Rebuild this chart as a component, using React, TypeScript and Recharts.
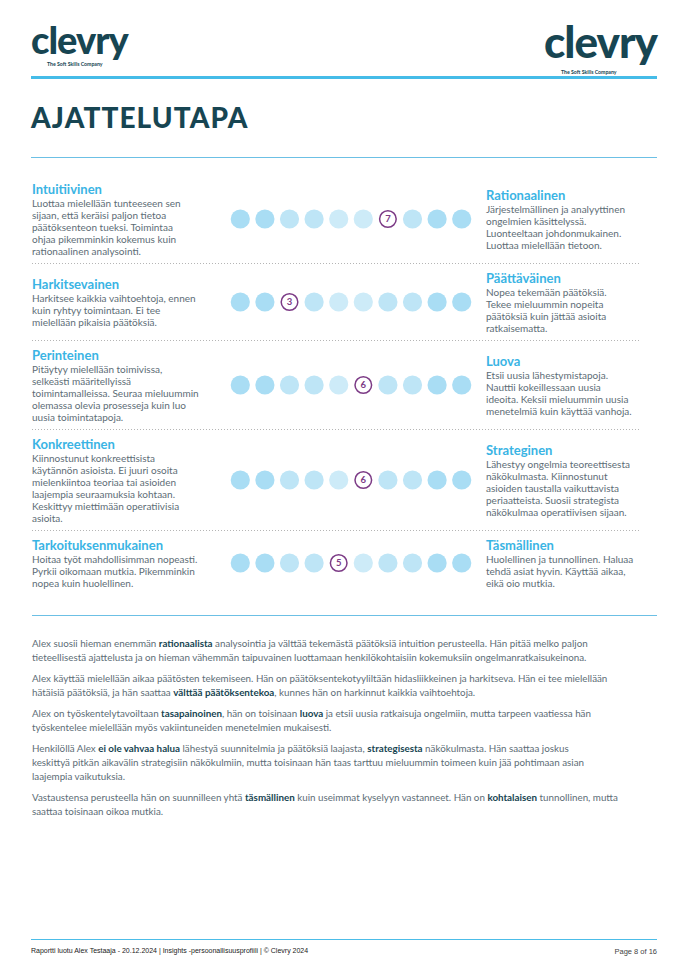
import React from "react";
import { ScatterChart, Scatter, XAxis, YAxis } from "recharts";

const positions = [1, 2, 3, 4, 5, 6, 7, 8, 9, 10];
const scores = [7, 3, 6, 6, 5];
const leftTitles = ["Intuitiivinen", "Harkitsevainen", "Perinteinen", "Konkreettinen", "Tarkoituksenmukainen"];
const rightTitles = ["Rationaalinen", "Päättäväinen", "Luova", "Strateginen", "Täsmällinen"];
const leftTexts = [
  ["Luottaa mielellään tunteeseen sen", "sijaan, että keräisi paljon tietoa", "päätöksenteon tueksi. Toimintaa", "ohjaa pikemminkin kokemus kuin", "rationaalinen analysointi."],
  ["Harkitsee kaikkia vaihtoehtoja, ennen", "kuin ryhtyy toimintaan. Ei tee", "mielellään pikaisia päätöksiä."],
  ["Pitäytyy mielellään toimivissa,", "selkeästi määritellyissä", "toimintamalleissa. Seuraa mieluummin", "olemassa olevia prosesseja kuin luo", "uusia toimintatapoja."],
  ["Kiinnostunut konkreettisista", "käytännön asioista. Ei juuri osoita", "mielenkiintoa teoriaa tai asioiden", "laajempia seuraamuksia kohtaan.", "Keskittyy miettimään operatiivisia", "asioita."],
  ["Hoitaa työt mahdollisimman nopeasti.", "Pyrkii oikomaan mutkia. Pikemminkin", "nopea kuin huolellinen."],
];
const rightTexts = [
  ["Järjestelmällinen ja analyyttinen", "ongelmien käsittelyssä.", "Luonteeltaan johdonmukainen.", "Luottaa mielellään tietoon."],
  ["Nopea tekemään päätöksiä.", "Tekee mieluummin nopeita", "päätöksiä kuin jättää asioita", "ratkaisematta."],
  ["Etsii uusia lähestymistapoja.", "Nauttii kokeillessaan uusia", "ideoita. Keksii mieluummin uusia", "menetelmiä kuin käyttää vanhoja."],
  ["Lähestyy ongelmia teoreettisesta", "näkökulmasta. Kiinnostunut", "asioiden taustalla vaikuttavista", "periaatteista. Suosii strategista", "näkökulmaa operatiivisen sijaan."],
  ["Huolellinen ja tunnollinen. Haluaa", "tehdä asiat hyvin. Käyttää aikaa,", "eikä oio mutkia."],
];
// paragraphs: each line is a list of [text, bold]
const paragraphs: [string, boolean][][][] = [
  [
    [["Alex suosii hieman enemmän ", false], ["rationaalista", true], [" analysointia ja välttää tekemästä päätöksiä intuition perusteella. Hän pitää melko paljon", false]],
    [["tieteellisestä ajattelusta ja on hieman vähemmän taipuvainen luottamaan henkilökohtaisiin kokemuksiin ongelmanratkaisukeinona.", false]],
  ],
  [
    [["Alex käyttää mielellään aikaa päätösten tekemiseen. Hän on päätöksentekotyyliltään hidasliikkeinen ja harkitseva. Hän ei tee mielellään", false]],
    [["hätäisiä päätöksiä, ja hän saattaa ", false], ["välttää päätöksentekoa", true], [", kunnes hän on harkinnut kaikkia vaihtoehtoja.", false]],
  ],
  [
    [["Alex on työskentelytavoiltaan ", false], ["tasapainoinen", true], [", hän on toisinaan ", false], ["luova", true], [" ja etsii uusia ratkaisuja ongelmiin, mutta tarpeen vaatiessa hän", false]],
    [["työskentelee mielellään myös vakiintuneiden menetelmien mukaisesti.", false]],
  ],
  [
    [["Henkilöllä Alex ", false], ["ei ole vahvaa halua", true], [" lähestyä suunnitelmia ja päätöksiä laajasta, ", false], ["strategisesta", true], [" näkökulmasta. Hän saattaa joskus", false]],
    [["keskittyä pitkän aikavälin strategisiin näkökulmiin, mutta toisinaan hän taas tarttuu mieluummin toimeen kuin jää pohtimaan asian", false]],
    [["laajempia vaikutuksia.", false]],
  ],
  [
    [["Vastaustensa perusteella hän on suunnilleen yhtä ", false], ["täsmällinen", true], [" kuin useimmat kyselyyn vastanneet. Hän on ", false], ["kohtalaisen", true], [" tunnollinen, mutta", false]],
    [["saattaa toisinaan oikoa mutkia.", false]],
  ],
];

const DARK = "#174552";
const BLUE = "#3ab4e4";
const TEXT = "#5d6d76";
const PURPLE = "#7c3b86";
const shadeFor = (p: number) => {
  const d = Math.min(p, 11 - p);
  return d <= 2 ? "#a9ddf4" : d <= 4 ? "#bee5f6" : "#cdebf8";
};
const FONT = "Lato, 'Open Sans', sans-serif";

function DotShape(props: any) {
  const { cx, cy, payload } = props;
  if (payload.isScore) {
    return (
      <g>
        <circle cx={cx} cy={cy} r={8.3} fill="#fff" stroke={PURPLE} strokeWidth={1.5} />
        <text x={cx} y={cy + 3.4} textAnchor="middle" fontSize={9.5} fontWeight={700} fill={PURPLE} fontFamily={FONT}>
          {payload.pos}
        </text>
      </g>
    );
  }
  return <circle cx={cx} cy={cy} r={9.6} fill={shadeFor(payload.pos)} />;
}

function DotScale({ score }: { score: number }) {
  const data = positions.map((p) => ({ pos: p, y: 0.5, isScore: p === score }));
  return (
    <ScatterChart width={246} height={26} margin={{ top: 0, right: 0, bottom: 0, left: 0 }}>
      <XAxis type="number" dataKey="pos" domain={[0.5, 10.5]} hide />
      <YAxis type="number" dataKey="y" domain={[0, 1]} hide width={0} />
      <Scatter data={data} isAnimationActive={false} shape={<DotShape />} />
    </ScatterChart>
  );
}

function TextBlock({ title, lines }: { title: string; lines: string[] }) {
  return (
    <div>
      <div style={{ color: BLUE, fontWeight: 700, fontSize: 13, lineHeight: "16px" }}>{title}</div>
      {lines.map((l, i) => (
        <div key={i} style={{ color: TEXT, fontSize: 10, lineHeight: "12px", whiteSpace: "nowrap" }}>
          {l}
        </div>
      ))}
    </div>
  );
}

function Logo({ size, pad, top }: { size: number; pad: number; top: number }) {
  return (
    <div style={{ position: "relative", color: DARK }}>
      <div style={{ fontSize: size, fontWeight: 900, lineHeight: `${Math.round(size * 0.8)}px`, letterSpacing: -1 }}>clevry</div>
      <div style={{ position: "absolute", left: pad, top, fontSize: 5.2, fontWeight: 700, whiteSpace: "nowrap" }}>
        The Soft Skills Company
      </div>
    </div>
  );
}

export default function App() {
  return (
    <div style={{ position: "relative", width: 688, height: 976, background: "#fff", fontFamily: FONT, overflow: "hidden" }}>
      <style>{`body{margin:0}`}</style>
      <div style={{ position: "absolute", left: 31, top: 24 }}>
        <Logo size={38} pad={16} top={37} />
      </div>
      <div style={{ position: "absolute", left: 544, top: 24 }}>
        <Logo size={44} pad={17} top={45} />
      </div>
      <div style={{ position: "absolute", left: 31, top: 76, width: 626, height: 3, background: "#45bce8" }} />
      <div style={{ position: "absolute", left: 31, top: 100, fontSize: 28, fontWeight: 900, color: DARK, letterSpacing: 1.1 }}>
        AJATTELUTAPA
      </div>
      <div style={{ position: "absolute", left: 31, top: 157, width: 626, height: 1, background: "#6cc0e5" }} />

      <div style={{ position: "absolute", left: 32, top: 175, width: 608 }}>
        {scores.map((s, i) => (
          <div
            key={i}
            style={{
              display: "flex",
              alignItems: "center",
              padding: "6px 0",
              borderBottom: i < scores.length - 1 ? "1px solid transparent" : "none",
              backgroundImage: i < scores.length - 1 ? "linear-gradient(to right, #b5b5b5 1px, transparent 1px)" : "none",
              backgroundSize: "3px 1px",
              backgroundRepeat: "repeat-x",
              backgroundPosition: "left bottom",
              backgroundOrigin: "border-box",
            }}
          >
            <div style={{ width: 196 }}>
              <TextBlock title={leftTitles[i]} lines={leftTexts[i]} />
            </div>
            <div style={{ width: 258 }}>
              <DotScale score={s} />
            </div>
            <div style={{ width: 154 }}>
              <TextBlock title={rightTitles[i]} lines={rightTexts[i]} />
            </div>
          </div>
        ))}
      </div>

      <div style={{ position: "absolute", left: 32, top: 615, width: 625, height: 1, background: "#6cc0e5" }} />

      <div style={{ position: "absolute", left: 32, top: 636, width: 630 }}>
        {paragraphs.map((p, i) => (
          <div key={i} style={{ marginBottom: 7 }}>
            {p.map((line, j) => (
              <div key={j} style={{ fontSize: 9.8, lineHeight: "14px", color: TEXT, whiteSpace: "nowrap" }}>
                {line.map(([t, b], k) => (
                  <span key={k} style={b ? { fontWeight: 700, color: DARK } : undefined}>
                    {t}
                  </span>
                ))}
              </div>
            ))}
          </div>
        ))}
      </div>

      <div style={{ position: "absolute", left: 31, top: 939, width: 626, height: 1, background: "#4cbde8" }} />
      <div style={{ position: "absolute", left: 31, top: 947, fontSize: 7, color: "#222", fontFamily: "'Liberation Sans', Arial, sans-serif" }}>
        Raportti luotu Alex Testaaja - 20.12.2024 | Insights -persoonallisuusprofiili | © Clevry 2024
      </div>
      <div style={{ position: "absolute", right: 31, top: 947, fontSize: 7.5, color: "#444", fontFamily: "'Liberation Sans', Arial, sans-serif" }}>
        Page 8 of 16
      </div>
    </div>
  );
}
